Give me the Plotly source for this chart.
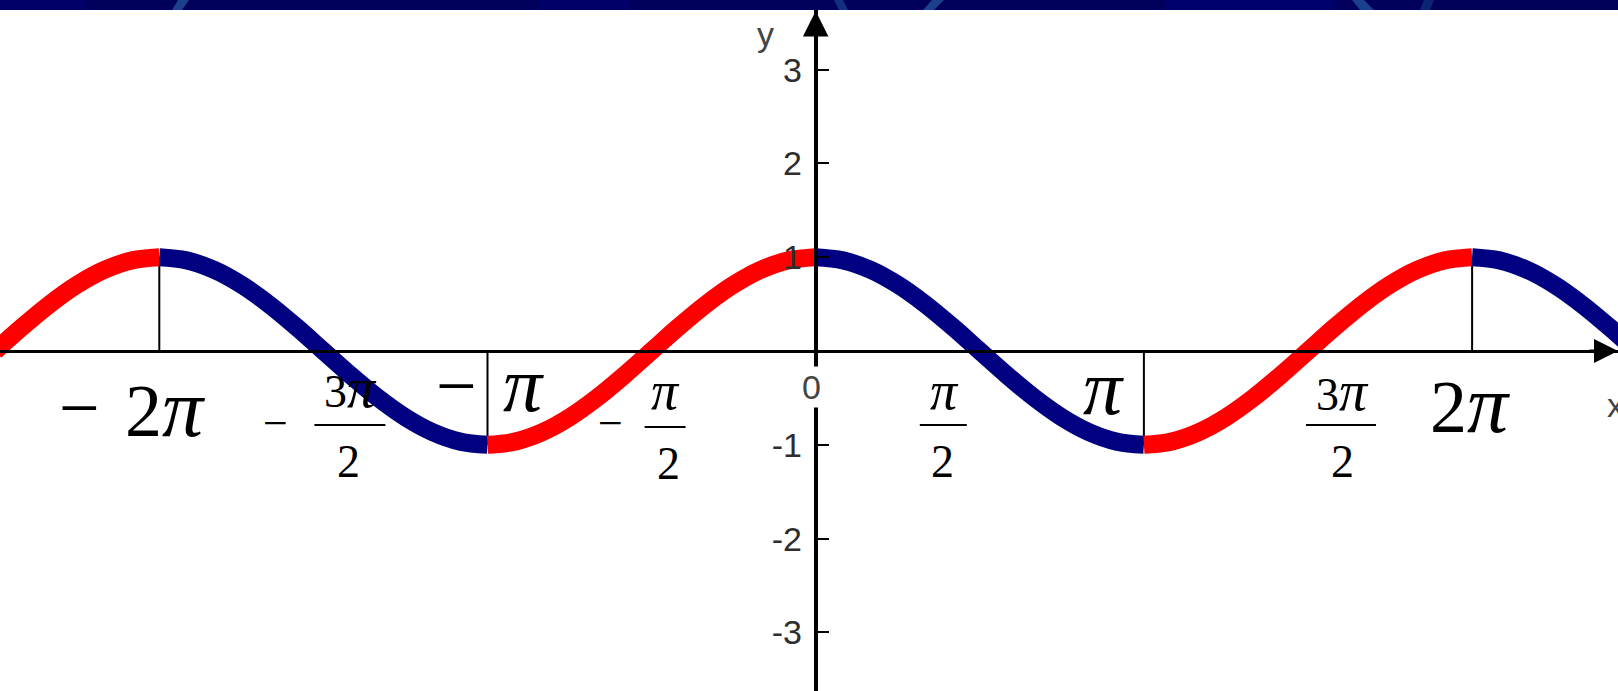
import math
import plotly.graph_objects as go

PI = math.pi

# ---------------- data ----------------
# curve sampled every pi/12, from -5pi/2 to 5pi/2
curve_x_twelfths = list(range(-30, 31))
curve_y = [0, .259, .5, .707, .866, .966, 1,
           .966, .866, .707, .5, .259, 0, -.259, -.5, -.707, -.866, -.966, -1,
           -.966, -.866, -.707, -.5, -.259, 0, .259, .5, .707, .866, .966, 1,
           .966, .866, .707, .5, .259, 0, -.259, -.5, -.707, -.866, -.966, -1,
           -.966, -.866, -.707, -.5, -.259, 0, .259, .5, .707, .866, .966, 1,
           .966, .866, .707, .5, .259, 0]
# extrema where the colour changes (index into the lists above)
turn_idx = [0, 6, 18, 30, 42, 54, 60]

# thin guide lines from the x-axis up/down to the curve
guide_x_pi = [-2, -1, 1, 2]
guide_y = [1, -1, -1, 1]

y_ticks = [-3, -2, -1, 1, 2, 3]
y_tick_text = ["-3", "-2", "-1", "1", "2", "3"]

RED = "#ff0000"
BLUE = "#000080"
SERIF = "Liberation Serif"
SANS = "Liberation Sans"

# axis scale (pixels): 0 at x=815.7, pi = 328.2 px ; y 0 at 351, 1 unit = 93.8 px
W, H = 1618, 691
PX_PI = 328.2
X0PX = 815.7
PX_Y = 93.8
Y0PX = 351.0
xmin = -X0PX / PX_PI * PI
xmax = (W - X0PX) / PX_PI * PI
ymax = Y0PX / PX_Y
ymin = -(H - Y0PX) / PX_Y

xs = [k * PI / 12 for k in curve_x_twelfths]

fig = go.Figure()
for a, b in zip(turn_idx[:-1], turn_idx[1:]):
    seg_x = xs[a:b + 1]
    seg_y = curve_y[a:b + 1]
    color = RED if seg_y[-1] > seg_y[0] else BLUE
    fig.add_trace(go.Scatter(x=seg_x, y=seg_y, mode="lines",
                             line=dict(color=color, width=18, shape="spline"),
                             hoverinfo="skip"))

shapes = []
for gx, gy in zip(guide_x_pi, guide_y):
    shapes.append(dict(type="line", xref="x", yref="y", x0=gx * PI, x1=gx * PI,
                       y0=0, y1=gy, line=dict(color="black", width=2), layer="below"))

# top band decoration
band_y0 = 1 - 10 / H
shapes.append(dict(type="rect", xref="paper", yref="paper", x0=0, x1=1, y0=band_y0, y1=1,
                   fillcolor="#00005c", line=dict(width=0), layer="above"))
for (a, b, c) in [(0, 85, "#000068"), (540, 630, "#000068"), (1165, 1335, "#00006a"), (1430, 1618, "#000058")]:
    shapes.append(dict(type="rect", xref="paper", yref="paper", x0=a / W, x1=b / W, y0=band_y0, y1=1,
                       fillcolor=c, line=dict(width=0), layer="above"))
# slanted lighter stripes: (bottom-left x, bottom-right x, top-left x, top-right x)
for (bl, br, tl, tr, c) in [(172, 182, 178, 189, "#1d3f8f"), (839, 848, 834, 843, "#12307f"),
                            (923, 934, 932, 944, "#1d3f8f"), (1360, 1374, 1352, 1364, "#1d3f8f"),
                            (1420, 1430, 1424, 1434, "#0c2476")]:
    path = "M {},{} L {},{} L {},{} L {},{} Z".format(bl / W, band_y0, br / W, band_y0, tr / W, 1, tl / W, 1)
    shapes.append(dict(type="path", xref="paper", yref="paper", path=path,
                       fillcolor=c, line=dict(width=0), layer="above"))

annotations = []


def lab(xpi, text, dx, dy, size, family=SERIF, color="black", bg=None):
    d = dict(x=xpi * PI, y=0, xref="x", yref="y", text=text, showarrow=False,
             xshift=dx, yshift=-dy, xanchor="center", yanchor="middle",
             font=dict(family=family, size=size, color=color))
    if bg:
        d["bgcolor"] = bg
    annotations.append(d)


def bar(xpi, dx0, dx1, dy):
    shapes.append(dict(type="line", xref="x", yref="y", xsizemode="pixel", ysizemode="pixel",
                       xanchor=xpi * PI, yanchor=0, x0=dx0, x1=dx1, y0=-dy, y1=-dy,
                       line=dict(color="black", width=2), layer="above"))


PIi = "<i>π</i>"
FR = 46
NUM3 = "3<span style='font-size:56px'>" + PIi + "</span>"
# -2pi
lab(-2, "−", -80, 57, 72)
lab(-2, "2<span style='font-size:82px'>" + PIi + "</span>", 6, 57, 74)
# -3pi/2
lab(-1.5, "−", -48, 72, 44)
lab(-1.5, NUM3, 27, 37, FR)
bar(-1.5, -9, 62, 74)
lab(-1.5, "2", 25, 110, FR)
# -pi
lab(-1, "−", -31, 35, 72)
lab(-1, PIi, 36, 33, 78)
# -pi/2
lab(-0.5, "−", -41, 72, 44)
lab(-0.5, PIi, 14, 40, FR + 8)
bar(-0.5, -7, 34, 76)
lab(-0.5, "2", 17, 112, FR)
# 0
lab(0, "0", -4, 36, 34, SANS, "#444444", bg="white")
# pi/2
lab(0.5, PIi, -35, 40, FR + 8)
bar(0.5, -60, -13, 74)
lab(0.5, "2", -37, 110, FR)
# pi
lab(1, PIi, -40, 36, 78)
# 3pi/2
lab(1.5, NUM3, 34, 40, FR)
bar(1.5, -2, 68, 74)
lab(1.5, "2", 34, 110, FR)
# 2pi
lab(2, "2<span style='font-size:82px'>" + PIi + "</span>", -2, 53, 74)

# axis letters
annotations.append(dict(x=xmax, y=0, xref="x", yref="y", text="x", showarrow=False,
                        xshift=-3, yshift=-54, font=dict(family=SANS, size=34, color="#444444")))
annotations.append(dict(x=0, y=3, xref="x", yref="y", text="y", showarrow=False,
                        xshift=-50, yshift=36, font=dict(family=SANS, size=34, color="#444444")))

# arrowheads
annotations.append(dict(x=xmax, y=0, xref="x", yref="y", text="", showarrow=True,
                        ax=-30, ay=0, arrowhead=2, arrowsize=1.6, arrowwidth=3, arrowcolor="black"))
annotations.append(dict(x=0, y=(Y0PX - 11) / PX_Y, xref="x", yref="y", text="", showarrow=True,
                        ax=0, ay=30, arrowhead=2, arrowsize=1.7, arrowwidth=3, arrowcolor="black"))

fig.update_layout(
    width=W, height=H, margin=dict(l=0, r=0, t=0, b=0),
    paper_bgcolor="white", plot_bgcolor="white", showlegend=False,
    xaxis=dict(range=[xmin, xmax], showgrid=False, zeroline=False, showticklabels=False,
               showline=True, linecolor="black", linewidth=3, ticks="",
               anchor="free", position=(H - Y0PX) / H, fixedrange=True),
    yaxis=dict(range=[ymin, ymax], showgrid=False, zeroline=False,
               showline=True, linecolor="black", linewidth=4,
               anchor="free", position=X0PX / W,
               tickmode="array", tickvals=y_ticks, ticktext=y_tick_text,
               ticks="inside", ticklen=11, tickwidth=2, tickcolor="black",
               ticklabelstandoff=5,
               tickfont=dict(family=SANS, size=34, color="#2e2e2e"), fixedrange=True),
    shapes=shapes, annotations=annotations,
)

fig.write_html("out.html", config={"displayModeBar": False},
               post_script="document.body.style.margin='0px';document.body.style.overflow='hidden';")
